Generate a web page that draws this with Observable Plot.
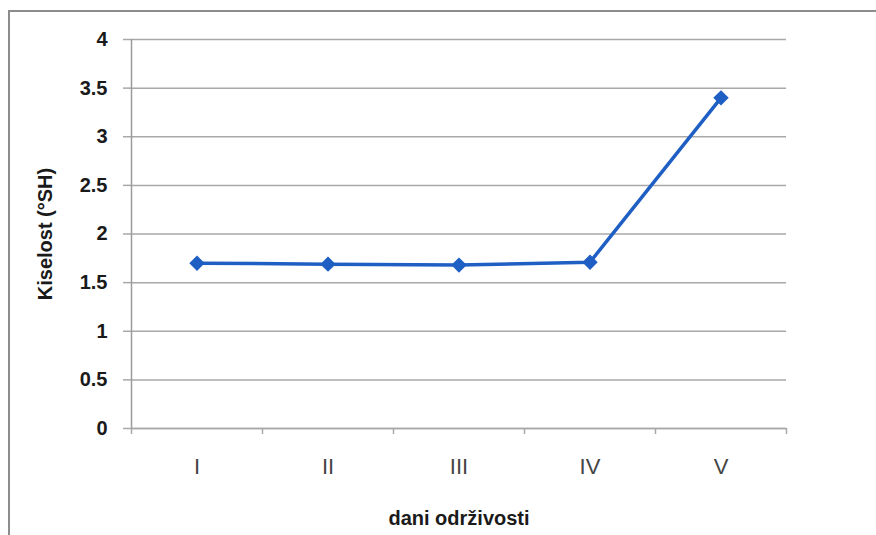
<!DOCTYPE html>
<html><head><meta charset="utf-8">
<script src="https://cdn.jsdelivr.net/npm/d3@7"></script>
<script src="https://cdn.jsdelivr.net/npm/@observablehq/plot@0.6"></script>
<style>
body{margin:0;background:#fff;}
#wrap{position:relative;width:876px;height:535px;overflow:hidden;}
#frame{position:absolute;left:8px;top:10px;width:900px;height:600px;border-left:2px solid #8c8c8c;border-top:2px solid #8c8c8c;}
#chart{position:absolute;left:0;top:0;}
</style></head><body><div id="wrap"><div id="frame"></div><div id="chart"></div></div>
<script>
const days = ["I", "II", "III", "IV", "V"];
const acidity = [1.70, 1.69, 1.68, 1.71, 3.40];
const yTicks = [0, 0.5, 1, 1.5, 2, 2.5, 3, 3.5, 4];
const xTitle = "dani održivosti";
const yTitle = "Kiselost (°SH)";

const data = days.map((d, i) => ({day: d, idx: i + 1, value: acidity[i]}));
const positions = days.map((d, i) => i + 1);
const bounds = d3.range(0, days.length + 1).map(i => i + 0.5);
const blue = "#1f5fc4";
const grid = "#a8a8a8";

const chart = Plot.plot({
  width: 876, height: 535,
  marginLeft: 131, marginRight: 90, marginTop: 39, marginBottom: 107,
  style: {background: "transparent", fontFamily: "'Liberation Sans', Arial, sans-serif"},
  x: {type: "linear", domain: [0.5, days.length + 0.5], axis: null},
  y: {domain: [0, 4], axis: null},
  marks: [
    Plot.gridY(yTicks, {stroke: grid, strokeOpacity: 1, strokeWidth: 1.5}),
    Plot.axisY(yTicks, {tickSize: 8, tickPadding: 16, stroke: grid, strokeWidth: 1.5, fill: "#1a1a1a",
      fontSize: 20, fontWeight: "bold", label: null, tickFormat: d => String(d)}),
    Plot.ruleX([0.5], {stroke: "#9a9a9a", strokeWidth: 1.5}),
    Plot.ruleY([0], {stroke: grid, strokeWidth: 1.5}),
    Plot.axisX(bounds, {tickSize: 6, stroke: grid, strokeWidth: 1.5, tickFormat: () => "", label: null}),
    Plot.axisX(positions, {tickSize: 0, tickPadding: 30, fill: "#444", fontSize: 22,
      tickFormat: i => days[i - 1], label: null}),
    Plot.text([xTitle], {frameAnchor: "bottom", dy: 90, lineAnchor: "middle", textAnchor: "middle",
      fontSize: 20, fontWeight: "bold", fill: "#1a1a1a"}),
    Plot.text([yTitle], {frameAnchor: "left", dx: -86, rotate: -90, textAnchor: "middle", lineAnchor: "middle",
      fontSize: 20, fontWeight: "bold", fill: "#1a1a1a"}),
    Plot.line(data, {x: "idx", y: "value", stroke: blue, strokeWidth: 3.5}),
    Plot.dot(data, {x: "idx", y: "value", symbol: "diamond2", r: 6, fill: blue, stroke: blue})
  ]
});
document.getElementById("chart").appendChild(chart);
</script>
</body></html>
